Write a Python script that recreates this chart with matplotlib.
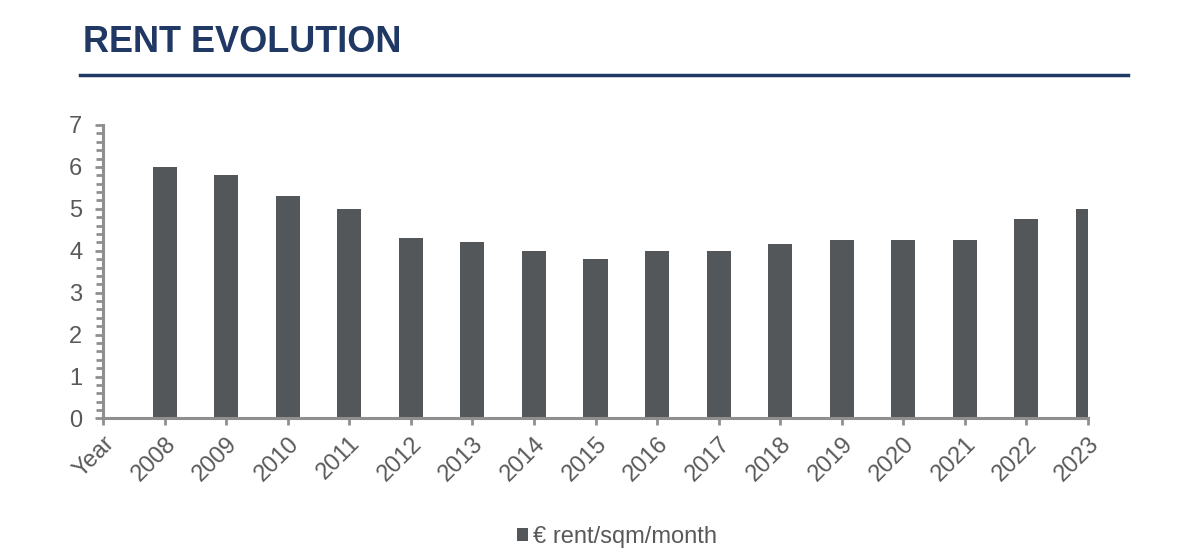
import matplotlib
matplotlib.use("Agg")
import numpy as np
import matplotlib.pyplot as plt
from matplotlib.patches import Patch
from matplotlib.ticker import MultipleLocator

# ── Data ──────────────────────────────────────────────────────────────────────
categories = ["Year", "2008", "2009", "2010", "2011", "2012", "2013", "2014",
              "2015", "2016", "2017", "2018", "2019", "2020", "2021", "2022", "2023"]
rent = [6.0, 5.8, 5.3, 5.0, 4.3, 4.2, 4.0, 3.8, 4.0, 4.0, 4.15, 4.25, 4.25, 4.25, 4.75, 5.0]
series_label = "€ rent/sqm/month"
title = "RENT EVOLUTION"

# ── Style ─────────────────────────────────────────────────────────────────────
plt.rcParams["font.family"] = ["Liberation Sans", "DejaVu Sans"]
bar_color = "#54575a"
axis_color = "#8f8f8f"
text_color = "#595959"
navy = "#1f3864"
fs = 17

fig = plt.figure(figsize=(12, 5.6), dpi=100)
ax = fig.add_axes([0.0858, 0.2527, 0.8209, 0.5241])

x = np.arange(len(categories))
ax.bar(x[1:], rent, width=0.39, color=bar_color, zorder=2)

ax.set_xlim(0, len(categories) - 1)
ax.set_ylim(0, 7)
ax.set_xticks(x)
ax.set_xticklabels(categories, rotation=45, ha="right", rotation_mode="anchor",
                   color=text_color, fontsize=fs)
ax.yaxis.set_major_locator(MultipleLocator(1))
ax.yaxis.set_minor_locator(MultipleLocator(0.2))
ax.tick_params(axis="y", which="major", length=6, width=2, color=axis_color,
               labelcolor=text_color, labelsize=fs, pad=9)
ax.tick_params(axis="y", which="minor", length=5, width=2, color=axis_color)
ax.tick_params(axis="x", which="major", length=5, width=2, color=axis_color, pad=5)

for side in ["top", "right"]:
    ax.spines[side].set_visible(False)
for side in ["left", "bottom"]:
    ax.spines[side].set_color(axis_color)
    ax.spines[side].set_linewidth(2.2)

# ── Title and rule ────────────────────────────────────────────────────────────
fig.text(0.069, 1 - 52 / 560, title, fontsize=26, fontweight="bold", color=navy,
         ha="left", va="baseline")
fig.add_artist(plt.Line2D([80 / 1200, 1128 / 1200], [1 - 75 / 560, 1 - 75 / 560],
                          color=navy, linewidth=2.5, transform=fig.transFigure))

# ── Legend ────────────────────────────────────────────────────────────────────
handle = Patch(facecolor=bar_color, edgecolor="none", label=series_label)
fig.legend(handles=[handle], loc="center", bbox_to_anchor=(0.514, 1 - 537 / 560),
           frameon=False, fontsize=fs, handlelength=0.5, handleheight=0.5,
           handletextpad=0.2, labelcolor=text_color)

fig.savefig("out.png", dpi=100)
